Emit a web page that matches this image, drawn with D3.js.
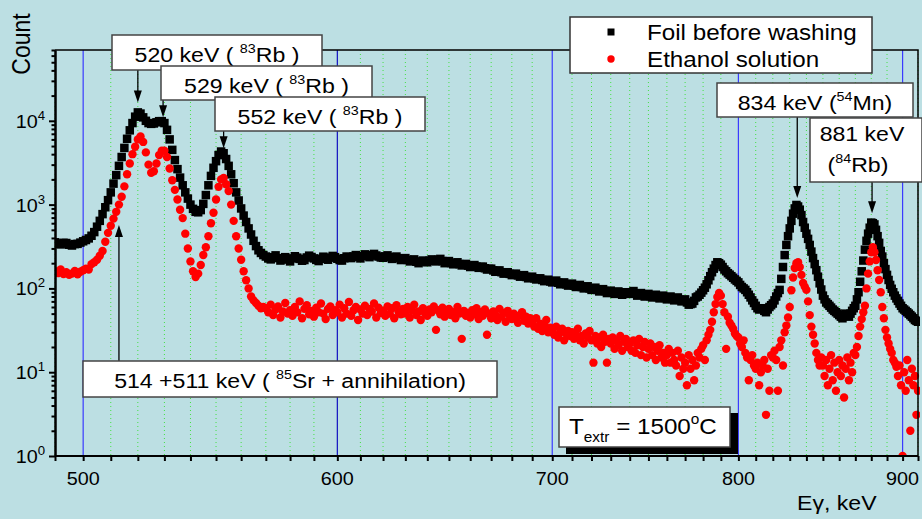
<!DOCTYPE html>
<html><head><meta charset="utf-8">
<script src="https://cdn.jsdelivr.net/npm/d3@7"></script>
<style>
body{margin:0;background:#bcdfe3;}
svg{display:block;}
text{font-family:"Liberation Sans",Arial,sans-serif;}
</style>
</head><body>
<svg id="chart" width="922" height="519"></svg>
<script>
// ---- data (counts per 1 keV channel, starting at 490 keV) ----
const energyStart = 490;
const energyStep = 1;
const foilCounts = [
355,342,335,350,348,332,325,338,340,352,
365,378,395,425,470,545,640,770,930,1130,
1400,1780,2250,2900,3700,4750,6100,7700,9400,11200,
12600,12200,11000,10000,9400,9200,9300,9600,9900,9900,
9400,7800,6000,4500,3400,2650,2100,1700,1400,1180,
1000,890,820,810,860,1020,1300,1700,2200,2750,
3300,3900,4300,4100,3500,2900,2300,1800,1400,1120,
900,740,620,520,440,370,320,285,265,250,
240,228,222,236,248,230,215,225,236,221,
210,228,242,233,225,214,218,234,246,237,
228,219,212,226,239,230,220,233,244,236,
226,218,215,229,240,236,230,241,250,238,
228,243,255,245,236,249,258,247,240,234,
232,241,248,236,225,233,240,229,218,226,
230,219,210,217,222,208,200,209,215,211,
205,214,222,216,210,219,225,212,200,207,
212,201,194,199,205,195,188,192,196,187,
180,186,190,182,176,180,182,174,168,171,
172,164,158,162,164,156,150,153,156,149,
144,148,150,143,138,141,144,137,132,135,
138,132,128,130,132,126,122,125,127,121,
118,121,124,117,112,115,118,112,108,111,
114,108,104,107,110,104,100,103,106,100,
96,99,102,96,92,95,98,93,88,91,
94,89,86,89,92,88,84,87,90,88,
86,90,93,87,82,85,88,84,80,83,
86,81,78,81,84,79,76,79,82,77,
74,77,80,75,72,75,78,73,70,72,
74,68,64,65,66,71,78,80,84,89,
95,102,112,125,140,156,172,190,205,200,
192,180,168,160,152,146,140,134,128,123,
118,110,104,100,96,90,84,78,72,67,
62,58,56,57,58,54,52,56,60,63,
66,72,80,88,96,130,180,250,330,420,
520,640,780,900,990,950,870,750,620,530,
450,390,330,275,230,195,165,138,115,97,
82,74,68,65,62,59,56,54,52,50,
48,46,44,47,50,48,46,50,54,58,
62,74,90,120,160,215,290,370,450,530,
610,600,580,500,420,350,280,240,200,170,
145,126,110,99,90,82,76,71,66,62,
58,56,54,52,50,48,46,44,42,41,
40];
const ethanolCounts = [
160,152,168,148,156,145,150,162,147,158,
165,172,168,195,205,220,245,280,360,460,
560,680,820,1000,1240,1650,2300,3100,4000,4900,
6000,6500,5600,4200,3000,2400,2500,3100,3900,4400,
4400,3700,2700,1950,1500,1150,870,690,450,300,
210,160,137,150,190,250,310,420,600,800,
1150,1630,2000,2080,1750,1450,1000,640,420,300,
220,160,125,100,80,72,67,62,58,60,
58,52,64,48,56,61,45,53,67,50,
55,47,60,52,70,44,57,63,49,54,
46,59,52,66,50,43,57,61,48,55,
52,64,45,58,50,69,47,55,60,42,
56,50,62,48,57,53,66,45,59,51,
54,47,61,50,58,44,63,52,49,57,
50,60,45,55,64,48,53,42,58,50,
47,56,52,61,32,55,49,59,46,53,
57,48,52,44,60,50,25,54,47,51,
45,55,49,58,43,52,47,56,28,50,
44,53,48,42,57,46,51,40,54,47,
43,50,45,39,48,52,41,46,38,44,
40,35,44,33,38,31,36,42,30,34,
32,28,35,26,30,33,24,29,31,27,
30,25,28,33,24,27,22,29,26,31,
24,13,27,22,26,20,28,23,13,25,
22,26,19,24,21,27,18,23,25,20,
22,18,24,17,21,25,16,20,23,15,
19,22,16,20,14,18,21,15,17,13,
16,19,13,17,14,12,18,9,15,11,
13,7,16,11,14,8,12,17,15,19,
21,14,24,28,32,40,52,65,79,88,
82,65,52,19,46,39,36,33,29,27,
26,22,20,24,17,15,8,14,16,12,
11,13,7,10,12,14,3.1,11,6,16,
15,18,14,6,20,24,12,30,36,45,
60,95,135,175,200,205,180,145,116,105,
96,70,48,35,28,22,17,14,12,15,
12,9,14,7,11,16,8,13,6,10,
14,9,12,5,11,15,8,13,10,17,
16,20,27,35,43,52,62,100,150,210,
270,310,270,218,165,126,90,60,44,32,
26,22,19,17,14,13,11.6,9,12,7,
1.0,10,6,14,8,2.0,11,7,9,3.1,
6];
const seriesNames = ["Foil before washing", "Ethanol solution"];
const xTickLabels = [500, 600, 700, 800, 900];
const yTickExponents = [0, 1, 2, 3, 4];
// peak annotations: label pieces and the point (energy, count) the arrow points to
const peakNotes = [
  {pre: "520 keV ( ", sup: "83", post: "Rb )", energy: 520, count: 16500},
  {pre: "529 keV ( ", sup: "83", post: "Rb )", energy: 529.5, count: 11000},
  {pre: "552 keV ( ", sup: "83", post: "Rb )", energy: 553, count: 4700},
  {pre: "834 keV (", sup: "54", post: "Mn)", energy: 834.5, count: 1200},
  {pre: "881 keV", sup: "84", post: "Rb)", energy: 880.5, count: 790},
  {pre: "514 +511 keV ( ", sup: "85", post: "Sr + annihilation)", energy: 513, count: 570}
];

// ---- drawing ----
const svg = d3.select("#chart");
const L = 55, R = 918, T = 50, B = 456;
const x = d3.scaleLog().domain([490, 910]).range([L, R]);
const y = d3.scaleLog().domain([1, 70000]).range([B, T]);
const energies = foilCounts.map((_, i) => energyStart + i * energyStep);
const SX = 1.1;

function label(parent, px, py, parts, anchor, rot) {
  const tr = rot ? `translate(${px},${py}) rotate(${rot}) scale(1,${SX})`
                 : `translate(${px},${py}) scale(${SX},1)`;
  const t = parent.append("text").attr("transform", tr)
    .attr("text-anchor", anchor || "start").attr("fill", "#000");
  parts.forEach(p => {
    const s = t.append("tspan").attr("font-size", p.s).text(p.t);
    if (p.dy) s.attr("dy", p.dy);
  });
  return t;
}

svg.append("rect").attr("width", 922).attr("height", 519).attr("fill", "#bcdfe3");

// grid
const gridVals = d3.range(490, 911, 10);
const grid = svg.append("g");
gridVals.filter(v => v % 100 !== 0).forEach(v => {
  grid.append("line").attr("x1", x(v)).attr("x2", x(v)).attr("y1", T).attr("y2", B)
    .attr("stroke", "#44e044").attr("stroke-width", 1).attr("stroke-dasharray", "1,3");
});
xTickLabels.forEach(v => {
  grid.append("line").attr("x1", x(v)).attr("x2", x(v)).attr("y1", T).attr("y2", B)
    .attr("stroke", v === 600 ? "#1010c0" : "#3a3aff").attr("stroke-width", 1.2);
});

// data
svg.append("clipPath").attr("id", "clip").append("rect")
  .attr("x", L).attr("y", T).attr("width", R - L + 2).attr("height", B - T);
const plot = svg.append("g").attr("clip-path", "url(#clip)");
const foil = energies.map((e, i) => [e, foilCounts[i]]);
const eth = energies.map((e, i) => [e, ethanolCounts[i]]);
const sq = 8.5;
plot.append("g").selectAll("rect").data(foil).join("rect")
  .attr("x", d => x(d[0]) - sq / 2).attr("y", d => y(d[1]) - sq / 2)
  .attr("width", sq).attr("height", sq).attr("fill", "#000");
plot.append("g").selectAll("circle").data(eth).join("circle")
  .attr("cx", d => x(d[0])).attr("cy", d => y(d[1])).attr("r", 4.2).attr("fill", "#ff0000");

// axes
const xAxis = d3.axisBottom(x).tickValues(gridVals).tickSize(5).tickSizeOuter(0).tickFormat("");
const gx = svg.append("g").attr("transform", `translate(0,${B})`).call(xAxis);
const majorY = yTickExponents.map(n => Math.pow(10, n));
const minorY = [];
yTickExponents.forEach(n => { for (let k = 2; k <= 9; k++) { const v = k * Math.pow(10, n); if (v <= 70000) minorY.push(v); } });
const gy = svg.append("g").attr("transform", `translate(${L},0)`)
  .call(d3.axisLeft(y).tickValues(majorY).tickSize(6).tickSizeOuter(0).tickFormat(""));
const gy2 = svg.append("g").attr("transform", `translate(${L},0)`)
  .call(d3.axisLeft(y).tickValues(minorY).tickSize(3.5).tickSizeOuter(0).tickFormat(""));
[gx, gy, gy2].forEach(g => {
  g.selectAll("path,line").attr("stroke", "#000").attr("stroke-width", 2);
});
gx.select(".domain").attr("d", `M${L},0H${R}`);
// frame
svg.append("path").attr("d", `M${L},${T}H${R}V${B}`).attr("fill", "none")
  .attr("stroke", "#000").attr("stroke-width", 1.5);

// tick labels
xTickLabels.forEach(v => label(svg, x(v), 485, [{t: String(v), s: 18}], "middle"));
yTickExponents.forEach(n => label(svg, 45, y(Math.pow(10, n)) + 7,
  [{t: "10", s: 18}, {t: String(n), s: 12, dy: -8}], "end"));

// axis titles
label(svg, 30, 44, [{t: "Count", s: 23}], "middle", -90);
label(svg, 797, 510, [{t: "E", s: 21}, {t: "γ", s: 21}, {t: ", keV", s: 21}], "start");

// annotation helpers
function box(px, py, w, h) {
  svg.append("rect").attr("x", px).attr("y", py).attr("width", w).attr("height", h)
    .attr("fill", "#fff").attr("stroke", "#444").attr("stroke-width", 1.5);
}
function arrow(px, y1, y2) {
  const dir = y2 > y1 ? 1 : -1;
  svg.append("line").attr("x1", px).attr("x2", px).attr("y1", y1).attr("y2", y2 - dir * 10)
    .attr("stroke", "#000").attr("stroke-width", 1.3);
  svg.append("path").attr("d", `M${px - 4},${y2 - dir * 12}L${px + 4},${y2 - dir * 12}L${px},${y2}Z`)
    .attr("fill", "#000");
}
function supLabel(px, py, n, anchor) {
  return label(svg, px, py, [{t: n.pre, s: 21}, {t: n.sup, s: 13, dy: -9}, {t: n.post, s: 21, dy: 9}], anchor || "middle");
}

// 520 / 529 / 552 boxes (stacked)
const boxes = [
  {bx: 112, by: 35, bw: 210, bh: 35},
  {bx: 161, by: 66, bw: 211, bh: 34},
  {bx: 215, by: 97, bw: 210, bh: 34}
];
boxes.forEach((b, i) => {
  const n = peakNotes[i];
  arrow(x(n.energy), b.by + b.bh, y(n.count));
  box(b.bx, b.by, b.bw, b.bh);
  supLabel(b.bx + b.bw / 2, b.by + 27, n);
});
// 834 keV
{
  const n = peakNotes[3];
  arrow(x(n.energy), 117, y(n.count));
  box(717, 83, 196, 34);
  supLabel(815, 110, n);
}
// 881 keV (two lines)
{
  const n = peakNotes[4];
  arrow(x(n.energy), 182, y(n.count));
  box(810, 118, 112, 64);
  label(svg, 862, 141, [{t: n.pre, s: 21}], "middle");
  label(svg, 858, 172, [{t: "(", s: 21}, {t: n.sup, s: 13, dy: -9}, {t: n.post, s: 21, dy: 9}], "middle");
}
// 514 + 511 keV
{
  const n = peakNotes[5];
  arrow(x(n.energy), 361, y(n.count));
  box(83, 361, 414, 36);
  supLabel(290, 388, n);
}

// T_extr box with shadow
svg.append("rect").attr("x", 566).attr("y", 413).attr("width", 172).attr("height", 41).attr("fill", "#000");
box(559, 407, 171, 40);
label(svg, 569, 434, [
  {t: "T", s: 22}, {t: "extr", s: 14, dy: 8}, {t: " = 1500", s: 22, dy: -8},
  {t: "o", s: 14, dy: -10}, {t: "C", s: 22, dy: 10}
], "start");

// legend
const lg = svg.append("g");
lg.append("rect").attr("x", 570).attr("y", 17).attr("width", 302).attr("height", 56)
  .attr("fill", "#fff").attr("stroke", "#333").attr("stroke-width", 1.5);
lg.append("rect").attr("x", 611 - 3.5).attr("y", 32 - 3.5).attr("width", 7).attr("height", 7).attr("fill", "#000");
lg.append("circle").attr("cx", 611).attr("cy", 59).attr("r", 3.7).attr("fill", "#ff0000");
label(lg, 647, 40, [{t: seriesNames[0], s: 22}], "start");
label(lg, 647, 67, [{t: seriesNames[1], s: 22}], "start");
</script>
</body></html>
